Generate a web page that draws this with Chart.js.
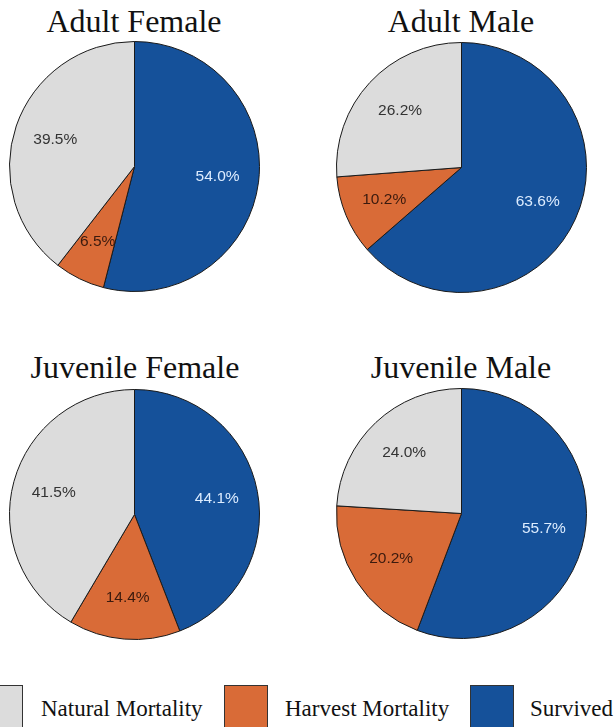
<!DOCTYPE html>
<html>
<head>
<meta charset="utf-8">
<script src="https://cdn.jsdelivr.net/npm/chart.js@4/dist/chart.umd.min.js"></script>
<style>
  html, body { margin: 0; padding: 0; background: #fff; }
  body { position: relative; width: 614px; height: 727px; overflow: hidden; }
  .pie { position: absolute; }
  .title {
    position: absolute; width: 300px; margin-left: -150px; text-align: center;
    font-family: "Liberation Serif", "Times New Roman", serif; font-size: 32px;
    line-height: 32px; color: #111; white-space: nowrap;
  }
  .key { position: absolute; top: 685px; width: 44px; height: 44px; box-sizing: border-box; border: 1px solid #333; }
  .keytext {
    position: absolute; top: 697px; font-family: "Liberation Serif", "Times New Roman", serif;
    font-size: 23px; line-height: 23px; color: #111; white-space: nowrap;
  }
</style>
</head>
<body>
<div class="title" style="left:134px; top:5px">Adult Female</div>
<div class="title" style="left:461px; top:5px">Adult Male</div>
<div class="title" style="left:135px; top:351px">Juvenile Female</div>
<div class="title" style="left:461px; top:351px">Juvenile Male</div>

<canvas id="adultFemale" class="pie" style="left:9px; top:41px" width="251" height="251"></canvas>
<canvas id="adultMale" class="pie" style="left:336px; top:42px" width="251" height="251"></canvas>
<canvas id="juvenileFemale" class="pie" style="left:9px; top:389px" width="251" height="251"></canvas>
<canvas id="juvenileMale" class="pie" style="left:336px; top:388px" width="251" height="251"></canvas>

<div class="key" style="left:-21px; background:#dcdcdc"></div>
<div class="keytext" style="left:41px">Natural Mortality</div>
<div class="key" style="left:224px; background:#d96b37"></div>
<div class="keytext" style="left:285px">Harvest Mortality</div>
<div class="key" style="left:470px; background:#15519a"></div>
<div class="keytext" style="left:530px">Survived</div>

<script>
// slice order runs clockwise from 12 o'clock
const fates = ["Survived", "Harvest Mortality", "Natural Mortality"];
const adultFemale = [54.0, 6.5, 39.5];
const adultMale = [63.6, 10.2, 26.2];
const juvenileFemale = [44.1, 14.4, 41.5];
const juvenileMale = [55.7, 20.2, 24.0];

const fills = ["#15519a", "#d96b37", "#dcdcdc"];
const labelColors = ["#dcecff", "#3a1a0e", "#333333"];

// percent labels at ~2/3 of the radius
const pctLabels = {
  id: "pctLabels",
  afterDatasetsDraw(chart) {
    const { ctx } = chart;
    const meta = chart.getDatasetMeta(0);
    const values = chart.data.datasets[0].data;
    ctx.save();
    ctx.font = "15.5px 'Liberation Sans', Arial, sans-serif";
    ctx.textAlign = "center";
    ctx.textBaseline = "middle";
    meta.data.forEach((arc, i) => {
      const p = arc.getProps(["x", "y", "startAngle", "endAngle", "outerRadius"], true);
      const mid = (p.startAngle + p.endAngle) / 2;
      const r = p.outerRadius * 0.67;
      ctx.fillStyle = labelColors[i];
      ctx.fillText(values[i].toFixed(1) + "%", p.x + Math.cos(mid) * r, p.y + Math.sin(mid) * r);
    });
    ctx.restore();
  }
};

function drawPie(id, values) {
  new Chart(document.getElementById(id), {
    type: "pie",
    data: {
      labels: fates,
      datasets: [{ data: values, backgroundColor: fills, borderColor: "#1a1a1a", borderWidth: 1 }]
    },
    options: {
      responsive: false,
      animation: false,
      layout: { padding: 0 },
      plugins: { legend: { display: false }, tooltip: { enabled: false } }
    },
    plugins: [pctLabels]
  });
}

drawPie("adultFemale", adultFemale);
drawPie("adultMale", adultMale);
drawPie("juvenileFemale", juvenileFemale);
drawPie("juvenileMale", juvenileMale);
</script>
</body>
</html>
